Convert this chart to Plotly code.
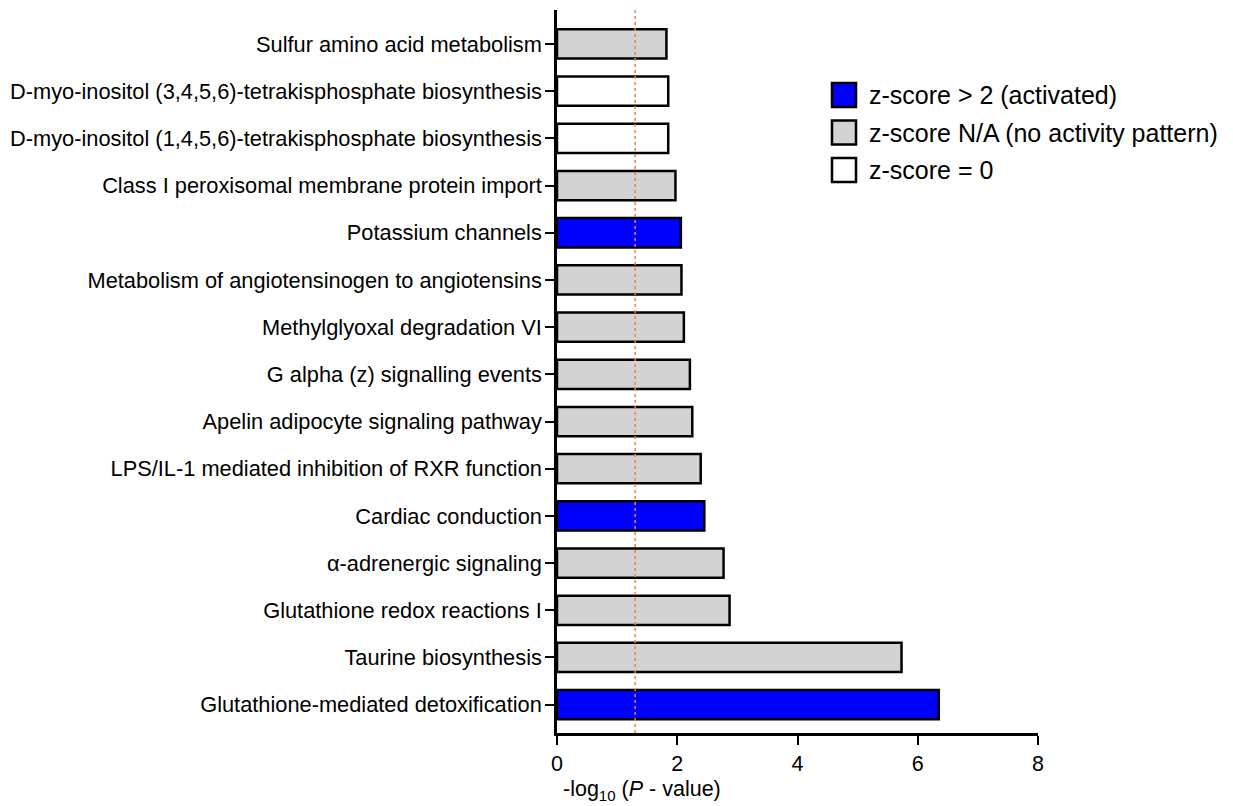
import plotly.graph_objects as go

pathways = [
    "Glutathione-mediated detoxification",
    "Taurine biosynthesis",
    "Glutathione redox reactions I",
    "α-adrenergic signaling",
    "Cardiac conduction",
    "LPS/IL-1 mediated inhibition of RXR function",
    "Apelin adipocyte signaling pathway",
    "G alpha (z) signalling events",
    "Methylglyoxal degradation VI",
    "Metabolism of angiotensinogen to angiotensins",
    "Potassium channels",
    "Class I peroxisomal membrane protein import",
    "D-myo-inositol (1,4,5,6)-tetrakisphosphate biosynthesis",
    "D-myo-inositol (3,4,5,6)-tetrakisphosphate biosynthesis",
    "Sulfur amino acid metabolism",
]
neg_log_p = [6.35, 5.73, 2.87, 2.77, 2.45, 2.39, 2.25, 2.21, 2.11, 2.07, 2.06, 1.97, 1.85, 1.85, 1.82]
zscore_group = ["act", "na", "na", "na", "act", "na", "na", "na", "na", "na", "act", "na", "zero", "zero", "na"]

group_colors = {"act": "#0000FF", "na": "#D3D3D3", "zero": "#FFFFFF"}
legend_labels = [("act", "z-score > 2 (activated)"),
                 ("na", "z-score N/A (no activity pattern)"),
                 ("zero", "z-score = 0")]
threshold = 1.30
x_ticks = [0, 2, 4, 6, 8]

FONT = "Liberation Sans, Arial, sans-serif"

fig = go.Figure()
fig.add_trace(go.Bar(
    x=neg_log_p, y=pathways, orientation="h",
    marker=dict(color=[group_colors[g] for g in zscore_group],
                line=dict(color="black", width=2.5)),
    width=0.62, showlegend=False,
))

fig.add_shape(type="line", xref="x", yref="paper", x0=threshold, x1=threshold, y0=0, y1=1,
              line=dict(color="#E8834A", width=1.5, dash="dot"), layer="above")

# legend (drawn manually)
W, H = 1233, 806
ml, mr, mt, mb = 557, 195, 10, 73
pw, ph = W - ml - mr, H - mt - mb
def px(xp):
    return (xp - ml) / pw
def py(yp):
    return 1 - (yp - mt) / ph
for i, (g, lab) in enumerate(legend_labels):
    yc = 95 + i * 37.5
    fig.add_shape(type="rect", xref="paper", yref="paper",
                  x0=px(832), x1=px(856), y0=py(yc - 12), y1=py(yc + 12),
                  fillcolor=group_colors[g], line=dict(color="black", width=2.5))
    fig.add_annotation(xref="paper", yref="paper", x=px(867), y=py(yc), text=lab,
                       showarrow=False, xanchor="left", yanchor="middle",
                       font=dict(size=25, color="black", family=FONT))

fig.add_annotation(xref="x", yref="paper", x=1.42, y=py(790),
                   text="-log<sub>10</sub> (<i>P</i> - value)", showarrow=False,
                   xanchor="center", yanchor="middle",
                   font=dict(size=21.5, color="black", family=FONT))

fig.update_layout(
    width=W, height=H,
    margin=dict(l=ml, r=mr, t=mt, b=mb, pad=0),
    plot_bgcolor="white", paper_bgcolor="white",
    font=dict(family=FONT, size=22, color="black"),
    xaxis=dict(range=[0, 8], tickvals=x_ticks, ticks="outside", ticklen=9, tickwidth=2,
               tickcolor="black", showline=True, linecolor="black", linewidth=2.5,
               showgrid=False, zeroline=False, tickfont=dict(size=21.5), automargin=False),
    yaxis=dict(categoryorder="array", categoryarray=pathways, range=[-0.6, 14.72],
               ticks="outside", ticklen=9, tickwidth=2, tickcolor="black",
               showline=True, linecolor="black", linewidth=2.5, showgrid=False,
               zeroline=False, tickfont=dict(size=21.8), ticklabelstandoff=-1, automargin=False),
)

fig.write_html("out.html")
